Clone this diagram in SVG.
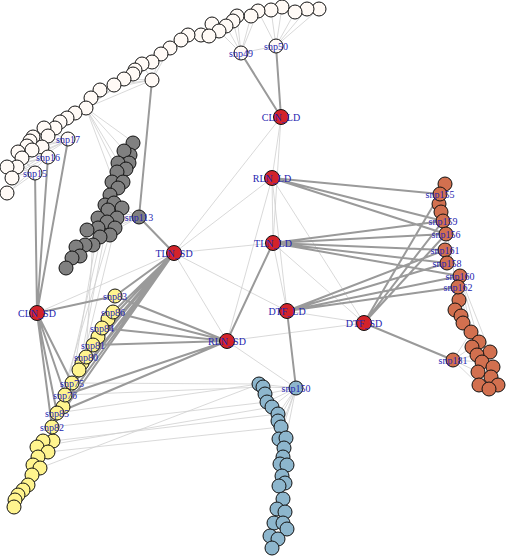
<svg xmlns="http://www.w3.org/2000/svg" width="506" height="556" viewBox="0 0 506 556">
<style>
.t{stroke:#cfcfcf;stroke-width:0.8;fill:none}
.k{stroke:#9a9a9a;stroke-width:2;fill:none}
circle{stroke:#111;stroke-width:1}
.w{fill:#fffaf6}.g{fill:#808080}.y{fill:#fff48e}.b{fill:#8db6cd}.o{fill:#d2704f}.r{fill:#d3232a}
text{font-family:"Liberation Serif","Times New Roman",serif;font-size:10px;fill:#2525b0;text-anchor:middle}
</style>
<rect width="506" height="556" fill="#fff"/>
<g id="connectors">
<g class="t">
<path d="M281,117L272,178M281,117L174,253M281,117L273,243M272,178L273,243M272,178L174,253M272,178L287,311M272,178L364,323M272,178L227,341M273,243L174,253M273,243L287,311M273,243L364,323M174,253L227,341M174,253L37,313M174,253L287,311M227,341L364,323M227,341L296,388M287,311L364,323"/>
<path d="M241,53L276,46M241,53L251,16M241,53L237,16M241,53L233,21M241,53L226,26M241,53L258,11M241,53L219,31M276,46L258,11M276,46L271,10M276,46L282,7M276,46L295,12M276,46L307,9M276,46L319,9"/>
<path d="M152,80L170,48M152,80L161,54M152,80L142,64M152,80L124,79M152,80L114,85M152,80L100,90M152,80L86,108M86,108L170,48M86,108L180,39M86,108L161,54M86,108L152,62M86,108L133,142M86,108L123,149M86,108L119,163M86,108L117,170M86,108L113,180"/>
<path d="M68,140L45,129M68,140L33,138M68,140L30,146M68,140L19,152M68,140L17,165M68,140L7,166M68,140L11,176M68,140L55,128M48,157L33,138M48,157L19,152M48,157L17,165M48,157L7,166M48,157L11,176M48,157L7,193M48,157L30,146M35,173L19,152M35,173L17,165M35,173L7,166M35,173L11,176M35,173L7,193M35,173L20,156"/>
<path d="M139,217L122,208M139,217L110,210M139,217L115,217M139,217L107,222M139,217L115,227M139,217L110,233M139,217L98,228"/>
<path d="M98,228L72,383M102,233L65,395M93,237L86,357M110,233L57,413M107,222L79,370M115,227L82,363"/>
<path d="M72,383L259,384M57,413L259,384M52,427L267,402M53,441L278,414M48,452L281,427M40,468L259,384M65,395L263,387M37,447L272,407"/>
<path d="M296,388L259,384M296,388L263,387M296,388L265,394M296,388L267,402M296,388L272,407M296,388L278,414M296,388L278,421M296,388L281,427M296,388L286,438M296,388L279,439"/>
<path d="M458,287L459,300M458,287L455,310M458,287L461,316M458,287L463,323M458,287L471,332M453,360L471,332M453,360L472,347M453,360L477,355M453,360L482,362M453,360L478,372M453,360L479,385M440,194L463,323M440,194L459,300M460,276L479,342M460,276L490,352M460,276L471,332"/>
</g>
<g class="k">
<path d="M281,117L241,53M281,117L276,46M152,80L139,217M139,217L174,253"/>
<path d="M37,313L35,173M37,313L48,157M37,313L68,140M37,313L115,296M37,313L72,383M37,313L65,395M37,313L57,413M37,313L52,427"/>
<path d="M174,253L115,296M174,253L113,312M174,253L102,328M174,253L93,345M174,253L86,357M174,253L72,383M174,253L65,395M174,253L57,413M174,253L52,427"/>
<path d="M227,341L115,296M227,341L113,312M227,341L102,328M227,341L93,345M227,341L65,395M227,341L57,413M227,341L273,243"/>
<path d="M272,178L440,194M272,178L443,221M272,178L446,234M273,243L443,221M273,243L446,234M273,243L445,250M273,243L447,263M273,243L460,276M287,311L445,250M287,311L447,263M287,311L460,276M287,311L458,287M287,311L296,388M364,323L440,194M364,323L443,221M364,323L446,234M364,323L453,360"/>
</g>
</g>
<g id="nodes">
<g id="w1"><circle class="w" cx="319" cy="9" r="7"/></g>
<g id="w2"><circle class="w" cx="307" cy="9" r="7"/></g>
<g id="w3"><circle class="w" cx="295" cy="12" r="7"/></g>
<g id="w4"><circle class="w" cx="282" cy="7" r="7"/></g>
<g id="w5"><circle class="w" cx="271" cy="10" r="7"/></g>
<g id="w6"><circle class="w" cx="258" cy="11" r="7"/></g>
<g id="w7"><circle class="w" cx="251" cy="16" r="7"/></g>
<g id="w8"><circle class="w" cx="237" cy="16" r="7"/></g>
<g id="w9"><circle class="w" cx="233" cy="21" r="7"/></g>
<g id="w10"><circle class="w" cx="226" cy="26" r="7"/></g>
<g id="w11"><circle class="w" cx="212" cy="24" r="7"/></g>
<g id="w12"><circle class="w" cx="219" cy="31" r="7"/></g>
<g id="w13"><circle class="w" cx="201" cy="35" r="7"/></g>
<g id="w14"><circle class="w" cx="209" cy="36" r="7"/></g>
<g id="w15"><circle class="w" cx="188" cy="35" r="7"/></g>
<g id="w16"><circle class="w" cx="181" cy="40" r="7"/></g>
<g id="w17"><circle class="w" cx="170" cy="48" r="7"/></g>
<g id="w18"><circle class="w" cx="161" cy="54" r="7"/></g>
<g id="w19"><circle class="w" cx="152" cy="62" r="7"/></g>
<g id="w20"><circle class="w" cx="142" cy="64" r="7"/></g>
<g id="w21"><circle class="w" cx="135" cy="70" r="7"/></g>
<g id="w22"><circle class="w" cx="133" cy="74" r="7"/></g>
<g id="w23"><circle class="w" cx="124" cy="79" r="7"/></g>
<g id="w24"><circle class="w" cx="114" cy="85" r="7"/></g>
<g id="w25"><circle class="w" cx="100" cy="90" r="7"/></g>
<g id="w26"><circle class="w" cx="91" cy="98" r="7"/></g>
<g id="w27"><circle class="w" cx="86" cy="108" r="7"/></g>
<g id="w28"><circle class="w" cx="75" cy="113" r="7"/></g>
<g id="w29"><circle class="w" cx="67" cy="118" r="7"/></g>
<g id="w30"><circle class="w" cx="60" cy="122" r="7"/></g>
<g id="w31"><circle class="w" cx="55" cy="128" r="7"/></g>
<g id="w32"><circle class="w" cx="44" cy="128" r="7"/></g>
<g id="w33"><circle class="w" cx="48" cy="136" r="7"/></g>
<g id="w34"><circle class="w" cx="33" cy="137" r="7"/></g>
<g id="w35"><circle class="w" cx="30" cy="141" r="7"/></g>
<g id="w36"><circle class="w" cx="27" cy="146" r="7"/></g>
<g id="w37"><circle class="w" cx="42" cy="147" r="7"/></g>
<g id="w38"><circle class="w" cx="32" cy="150" r="7"/></g>
<g id="w39"><circle class="w" cx="18" cy="152" r="7"/></g>
<g id="w40"><circle class="w" cx="22" cy="158" r="7"/></g>
<g id="w41"><circle class="w" cx="17" cy="167" r="7"/></g>
<g id="w42"><circle class="w" cx="7" cy="167" r="7"/></g>
<g id="w43"><circle class="w" cx="12" cy="178" r="7"/></g>
<g id="w44"><circle class="w" cx="7" cy="193" r="7"/></g>
<g id="w45"><circle class="w" cx="152" cy="80" r="7"/></g>
<g id="g1"><circle class="g" cx="133" cy="143" r="7"/></g>
<g id="g2"><circle class="g" cx="130" cy="155" r="7"/></g>
<g id="g3"><circle class="g" cx="124" cy="151" r="7"/></g>
<g id="g4"><circle class="g" cx="129" cy="163" r="7"/></g>
<g id="g5"><circle class="g" cx="118" cy="163" r="7"/></g>
<g id="g6"><circle class="g" cx="126" cy="169" r="7"/></g>
<g id="g7"><circle class="g" cx="117" cy="172" r="7"/></g>
<g id="g8"><circle class="g" cx="112" cy="182" r="7"/></g>
<g id="g9"><circle class="g" cx="123" cy="182" r="7"/></g>
<g id="g10"><circle class="g" cx="118" cy="188" r="7"/></g>
<g id="g11"><circle class="g" cx="110" cy="195" r="7"/></g>
<g id="g12"><circle class="g" cx="105" cy="205" r="7"/></g>
<g id="g13"><circle class="g" cx="114" cy="203" r="7"/></g>
<g id="g14"><circle class="g" cx="122" cy="208" r="7"/></g>
<g id="g15"><circle class="g" cx="108" cy="210" r="7"/></g>
<g id="g16"><circle class="g" cx="117" cy="218" r="7"/></g>
<g id="g17"><circle class="g" cx="98" cy="218" r="7"/></g>
<g id="g18"><circle class="g" cx="107" cy="222" r="7"/></g>
<g id="g19"><circle class="g" cx="115" cy="228" r="7"/></g>
<g id="g20"><circle class="g" cx="98" cy="228" r="7"/></g>
<g id="g21"><circle class="g" cx="110" cy="235" r="7"/></g>
<g id="g22"><circle class="g" cx="100" cy="237" r="7"/></g>
<g id="g23"><circle class="g" cx="87" cy="230" r="7"/></g>
<g id="g24"><circle class="g" cx="93" cy="245" r="7"/></g>
<g id="g25"><circle class="g" cx="85" cy="245" r="7"/></g>
<g id="g26"><circle class="g" cx="76" cy="247" r="7"/></g>
<g id="g27"><circle class="g" cx="80" cy="256" r="7"/></g>
<g id="g28"><circle class="g" cx="72" cy="258" r="7"/></g>
<g id="g29"><circle class="g" cx="66" cy="268" r="7"/></g>
<g id="y1"><circle class="y" cx="108" cy="319" r="7"/></g>
<g id="y2"><circle class="y" cx="98" cy="337" r="7"/></g>
<g id="y3"><circle class="y" cx="82" cy="363" r="7"/></g>
<g id="y4"><circle class="y" cx="79" cy="370" r="7"/></g>
<g id="y5"><circle class="y" cx="63" cy="407" r="7"/></g>
<g id="y6"><circle class="y" cx="53" cy="441" r="7"/></g>
<g id="y7"><circle class="y" cx="43" cy="441" r="7"/></g>
<g id="y8"><circle class="y" cx="37" cy="447" r="7"/></g>
<g id="y9"><circle class="y" cx="48" cy="452" r="7"/></g>
<g id="y10"><circle class="y" cx="38" cy="457" r="7"/></g>
<g id="y11"><circle class="y" cx="33" cy="465" r="7"/></g>
<g id="y12"><circle class="y" cx="40" cy="468" r="7"/></g>
<g id="y13"><circle class="y" cx="32" cy="475" r="7"/></g>
<g id="y14"><circle class="y" cx="28" cy="485" r="7"/></g>
<g id="y15"><circle class="y" cx="23" cy="490" r="7"/></g>
<g id="y16"><circle class="y" cx="18" cy="495" r="7"/></g>
<g id="y17"><circle class="y" cx="15" cy="500" r="7"/></g>
<g id="y18"><circle class="y" cx="14" cy="507" r="7"/></g>
<g id="b1"><circle class="b" cx="259" cy="384" r="7"/></g>
<g id="b2"><circle class="b" cx="263" cy="387" r="7"/></g>
<g id="b3"><circle class="b" cx="265" cy="394" r="7"/></g>
<g id="b4"><circle class="b" cx="267" cy="402" r="7"/></g>
<g id="b5"><circle class="b" cx="272" cy="407" r="7"/></g>
<g id="b6"><circle class="b" cx="278" cy="414" r="7"/></g>
<g id="b7"><circle class="b" cx="278" cy="421" r="7"/></g>
<g id="b8"><circle class="b" cx="281" cy="427" r="7"/></g>
<g id="b9"><circle class="b" cx="279" cy="439" r="7"/></g>
<g id="b10"><circle class="b" cx="286" cy="438" r="7"/></g>
<g id="b11"><circle class="b" cx="284" cy="448" r="7"/></g>
<g id="b12"><circle class="b" cx="283" cy="457" r="7"/></g>
<g id="b13"><circle class="b" cx="280" cy="464" r="7"/></g>
<g id="b14"><circle class="b" cx="287" cy="465" r="7"/></g>
<g id="b15"><circle class="b" cx="282" cy="476" r="7"/></g>
<g id="b16"><circle class="b" cx="285" cy="483" r="7"/></g>
<g id="b17"><circle class="b" cx="279" cy="486" r="7"/></g>
<g id="b18"><circle class="b" cx="283" cy="499" r="7"/></g>
<g id="b19"><circle class="b" cx="277" cy="509" r="7"/></g>
<g id="b20"><circle class="b" cx="285" cy="512" r="7"/></g>
<g id="b21"><circle class="b" cx="274" cy="523" r="7"/></g>
<g id="b22"><circle class="b" cx="283" cy="523" r="7"/></g>
<g id="b23"><circle class="b" cx="287" cy="529" r="7"/></g>
<g id="b24"><circle class="b" cx="270" cy="536" r="7"/></g>
<g id="b25"><circle class="b" cx="278" cy="539" r="7"/></g>
<g id="b26"><circle class="b" cx="272" cy="548" r="7"/></g>
<g id="o1"><circle class="o" cx="445" cy="184" r="7"/></g>
<g id="o2"><circle class="o" cx="439" cy="204" r="7"/></g>
<g id="o3"><circle class="o" cx="441" cy="212" r="7"/></g>
<g id="o4"><circle class="o" cx="459" cy="300" r="7"/></g>
<g id="o5"><circle class="o" cx="455" cy="310" r="7"/></g>
<g id="o6"><circle class="o" cx="461" cy="316" r="7"/></g>
<g id="o7"><circle class="o" cx="463" cy="323" r="7"/></g>
<g id="o8"><circle class="o" cx="471" cy="332" r="7"/></g>
<g id="o9"><circle class="o" cx="479" cy="342" r="7"/></g>
<g id="o10"><circle class="o" cx="472" cy="347" r="7"/></g>
<g id="o11"><circle class="o" cx="490" cy="352" r="7"/></g>
<g id="o12"><circle class="o" cx="477" cy="355" r="7"/></g>
<g id="o13"><circle class="o" cx="482" cy="362" r="7"/></g>
<g id="o14"><circle class="o" cx="493" cy="367" r="7"/></g>
<g id="o15"><circle class="o" cx="478" cy="372" r="7"/></g>
<g id="o16"><circle class="o" cx="491" cy="377" r="7"/></g>
<g id="o17"><circle class="o" cx="498" cy="385" r="7"/></g>
<g id="o18"><circle class="o" cx="479" cy="385" r="7"/></g>
<g id="o19"><circle class="o" cx="489" cy="389" r="7"/></g>
<g id="snp49"><circle class="w" cx="241" cy="53" r="7"/><text x="241" y="56.5">snp49</text></g>
<g id="snp50"><circle class="w" cx="276" cy="46" r="7"/><text x="276" y="49.5">snp50</text></g>
<g id="snp17"><circle class="w" cx="68" cy="139" r="7"/><text x="68" y="142.5">snp17</text></g>
<g id="snp16"><circle class="w" cx="48" cy="157" r="7"/><text x="48" y="160.5">snp16</text></g>
<g id="snp15"><circle class="w" cx="35" cy="173" r="7"/><text x="35" y="176.5">snp15</text></g>
<g id="snp113"><circle class="g" cx="139" cy="217" r="7"/><text x="139" y="220.5">snp113</text></g>
<g id="snp83"><circle class="y" cx="115" cy="296" r="7"/><text x="115" y="299.5">snp83</text></g>
<g id="snp86"><circle class="y" cx="113" cy="312" r="7"/><text x="113" y="315.5">snp86</text></g>
<g id="snp84"><circle class="y" cx="102" cy="328" r="7"/><text x="102" y="331.5">snp84</text></g>
<g id="snp81"><circle class="y" cx="93" cy="345" r="7"/><text x="93" y="348.5">snp81</text></g>
<g id="snp80"><circle class="y" cx="86" cy="357" r="7"/><text x="86" y="360.5">snp80</text></g>
<g id="snp75"><circle class="y" cx="72" cy="383" r="7"/><text x="72" y="386.5">snp75</text></g>
<g id="snp76"><circle class="y" cx="65" cy="395" r="7"/><text x="65" y="398.5">snp76</text></g>
<g id="snp85"><circle class="y" cx="57" cy="413" r="7"/><text x="57" y="416.5">snp85</text></g>
<g id="snp82"><circle class="y" cx="52" cy="427" r="7"/><text x="52" y="430.5">snp82</text></g>
<g id="snp150"><circle class="b" cx="296" cy="388" r="7"/><text x="296" y="391.5">snp150</text></g>
<g id="snp155"><circle class="o" cx="440" cy="194" r="7"/><text x="440" y="197.5">snp155</text></g>
<g id="snp159"><circle class="o" cx="443" cy="221" r="7"/><text x="443" y="224.5">snp159</text></g>
<g id="snp156"><circle class="o" cx="446" cy="234" r="7"/><text x="446" y="237.5">snp156</text></g>
<g id="snp161"><circle class="o" cx="445" cy="250" r="7"/><text x="445" y="253.5">snp161</text></g>
<g id="snp158"><circle class="o" cx="447" cy="263" r="7"/><text x="447" y="266.5">snp158</text></g>
<g id="snp160"><circle class="o" cx="460" cy="276" r="7"/><text x="460" y="279.5">snp160</text></g>
<g id="snp162"><circle class="o" cx="458" cy="287" r="7"/><text x="458" y="290.5">snp162</text></g>
<g id="snp181"><circle class="o" cx="453" cy="360" r="7"/><text x="453" y="363.5">snp181</text></g>
<g id="CLN_LD"><circle class="r" cx="281" cy="117" r="7.5"/><text x="281" y="120.5">CLN_LD</text></g>
<g id="RLN_LD"><circle class="r" cx="272" cy="178" r="7.5"/><text x="272" y="181.5">RLN_LD</text></g>
<g id="TLN_LD"><circle class="r" cx="273" cy="243" r="7.5"/><text x="273" y="246.5">TLN_LD</text></g>
<g id="TLN_SD"><circle class="r" cx="174" cy="253" r="7.5"/><text x="174" y="256.5">TLN_SD</text></g>
<g id="CLN_SD"><circle class="r" cx="37" cy="313" r="7.5"/><text x="37" y="316.5">CLN_SD</text></g>
<g id="RLN_SD"><circle class="r" cx="227" cy="341" r="7.5"/><text x="227" y="344.5">RLN_SD</text></g>
<g id="DTF_LD"><circle class="r" cx="287" cy="311" r="7.5"/><text x="287" y="314.5">DTF_LD</text></g>
<g id="DTF_SD"><circle class="r" cx="364" cy="323" r="7.5"/><text x="364" y="326.5">DTF_SD</text></g>
</g>
</svg>
